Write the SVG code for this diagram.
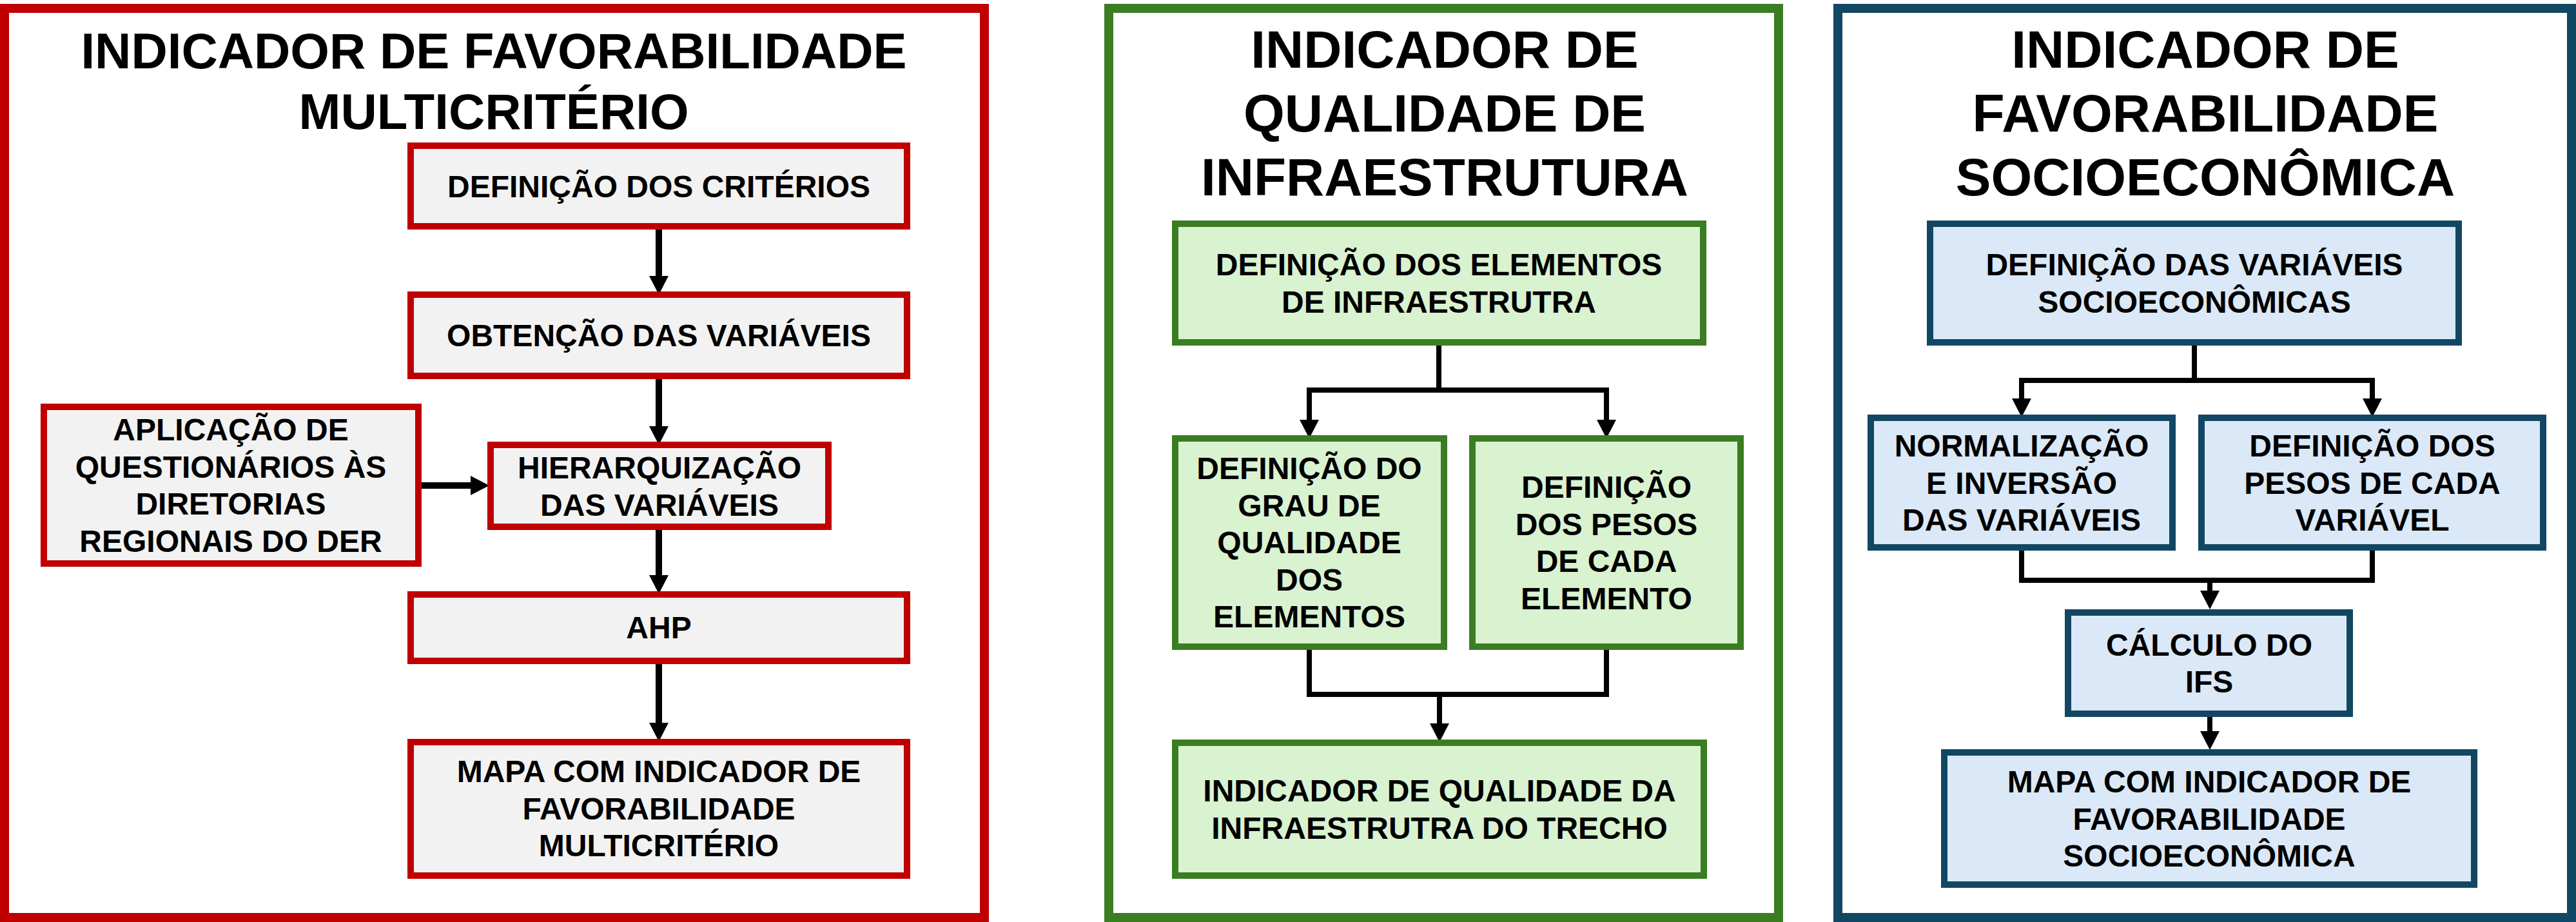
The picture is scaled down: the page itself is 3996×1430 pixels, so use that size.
<svg xmlns="http://www.w3.org/2000/svg" width="3996" height="1430" viewBox="0 0 3996 1430">
<style>
text{font-family:"Liberation Sans",Arial,sans-serif;font-weight:bold;fill:#000;text-anchor:middle}
.t1{font-size:78px}
.t2{font-size:82px}
.n{font-size:48px}
.frame{fill:#fff;stroke-width:14}
.box{stroke-width:10}
.r{stroke:#C00000}
.rb{fill:#F2F2F2;stroke:#C00000}
.g{stroke:#3A7D22}
.gb{fill:#D9F2D0;stroke:#3A7D22}
.b{stroke:#124763}
.bb{fill:#DAE8F7;stroke:#124763}
.c{fill:none;stroke:#000;stroke-linejoin:miter;stroke-linecap:butt}
.c10{stroke-width:10}
.c8{stroke-width:8}
</style>
<defs>
<marker id="ah" markerUnits="userSpaceOnUse" markerWidth="30" markerHeight="30" viewBox="0 -15 29 30" refX="0" refY="0" orient="auto">
<path d="M0,-15 L29,0 L0,15 z" fill="#000"/>
</marker>
</defs>
<rect width="3996" height="1430" fill="#fff"/>
<g id="frames">
<rect id="frame-ifm" class="frame r" x="7" y="13" width="1520" height="1410"/>
<rect id="frame-iqi" class="frame g" x="1720" y="13" width="1039" height="1410"/>
<rect id="frame-ifs" class="frame b" x="2851" y="13" width="1138" height="1410"/>
</g>
<g id="titles">
<text class="t1" x="766" y="106">INDICADOR DE FAVORABILIDADE</text>
<text class="t1" x="766" y="200">MULTICRITÉRIO</text>
<text class="t2" x="2241" y="105">INDICADOR DE</text>
<text class="t2" x="2241" y="204">QUALIDADE DE</text>
<text class="t2" x="2241" y="303">INFRAESTRUTURA</text>
<text class="t2" x="3421" y="105">INDICADOR DE</text>
<text class="t2" x="3421" y="204">FAVORABILIDADE</text>
<text class="t2" x="3421" y="303">SOCIOECONÔMICA</text>
</g>
<g id="connectors">
<path class="c c10" d="M1022,356 V428" marker-end="url(#ah)"/>
<path class="c c10" d="M1022,588 V661" marker-end="url(#ah)"/>
<path class="c c10" d="M1022,822 V892" marker-end="url(#ah)"/>
<path class="c c10" d="M1022,1030 V1121" marker-end="url(#ah)"/>
<path class="c c10" d="M654,753 H730" marker-end="url(#ah)"/>
<path class="c c8" d="M2232,536 V605 H2031 V651" marker-end="url(#ah)"/>
<path class="c c8" d="M2232,605 H2492 V651" marker-end="url(#ah)"/>
<path class="c c8" d="M2031,1008 V1077 H2492 V1008"/>
<path class="c c8" d="M2233,1077 V1122" marker-end="url(#ah)"/>
<path class="c c8" d="M3404,536 V590 H3136 V618" marker-end="url(#ah)"/>
<path class="c c8" d="M3404,590 H3680 V618" marker-end="url(#ah)"/>
<path class="c c8" d="M3136,854 V900 H3680 V854"/>
<path class="c c8" d="M3428,900 V916" marker-end="url(#ah)"/>
<path class="c c8" d="M3428,1112 V1134" marker-end="url(#ah)"/>
</g>
<g id="n-criterios"><rect class="box rb" x="637" y="226" width="770" height="125"/><text class="n" x="1022" y="306">DEFINIÇÃO DOS CRITÉRIOS</text></g>
<g id="n-obtencao"><rect class="box rb" x="637" y="457" width="770" height="126"/><text class="n" x="1022" y="537">OBTENÇÃO DAS VARIÁVEIS</text></g>
<g id="n-hierarquizacao"><rect class="box rb" x="761" y="690" width="524" height="127"/><text class="n" x="1023" y="742">HIERARQUIZAÇÃO</text><text class="n" x="1023" y="800">DAS VARIÁVEIS</text></g>
<g id="n-questionarios"><rect class="box rb" x="68" y="631" width="581" height="243"/><text class="n" x="358" y="683">APLICAÇÃO DE</text><text class="n" x="358" y="741">QUESTIONÁRIOS ÀS</text><text class="n" x="358" y="798">DIRETORIAS</text><text class="n" x="358" y="856">REGIONAIS DO DER</text></g>
<g id="n-ahp"><rect class="box rb" x="637" y="922" width="770" height="103"/><text class="n" x="1022" y="990">AHP</text></g>
<g id="n-mapa-ifm"><rect class="box rb" x="637" y="1151" width="770" height="207"/><text class="n" x="1022" y="1213">MAPA COM INDICADOR DE</text><text class="n" x="1022" y="1271">FAVORABILIDADE</text><text class="n" x="1022" y="1328">MULTICRITÉRIO</text></g>
<g id="n-elementos"><rect class="box gb" x="1823" y="347" width="819" height="184"/><text class="n" x="2232" y="427">DEFINIÇÃO DOS ELEMENTOS</text><text class="n" x="2232" y="485">DE INFRAESTRUTRA</text></g>
<g id="n-grau"><rect class="box gb" x="1823" y="680" width="417" height="323"/><text class="n" x="2031" y="743">DEFINIÇÃO DO</text><text class="n" x="2031" y="801">GRAU DE</text><text class="n" x="2031" y="858">QUALIDADE</text><text class="n" x="2031" y="916">DOS</text><text class="n" x="2031" y="973">ELEMENTOS</text></g>
<g id="n-pesos-elem"><rect class="box gb" x="2284" y="680" width="416" height="323"/><text class="n" x="2492" y="772">DEFINIÇÃO</text><text class="n" x="2492" y="830">DOS PESOS</text><text class="n" x="2492" y="887">DE CADA</text><text class="n" x="2492" y="945">ELEMENTO</text></g>
<g id="n-iqi"><rect class="box gb" x="1823" y="1152" width="820" height="206"/><text class="n" x="2233" y="1243">INDICADOR DE QUALIDADE DA</text><text class="n" x="2233" y="1301">INFRAESTRUTRA DO TRECHO</text></g>
<g id="n-variaveis"><rect class="box bb" x="2994" y="347" width="820" height="184"/><text class="n" x="3404" y="427">DEFINIÇÃO DAS VARIÁVEIS</text><text class="n" x="3404" y="485">SOCIOECONÔMICAS</text></g>
<g id="n-normalizacao"><rect class="box bb" x="2902" y="648" width="468" height="201"/><text class="n" x="3136" y="708">NORMALIZAÇÃO</text><text class="n" x="3136" y="766">E INVERSÃO</text><text class="n" x="3136" y="823">DAS VARIÁVEIS</text></g>
<g id="n-pesos-var"><rect class="box bb" x="3415" y="648" width="530" height="201"/><text class="n" x="3680" y="708">DEFINIÇÃO DOS</text><text class="n" x="3680" y="766">PESOS DE CADA</text><text class="n" x="3680" y="823">VARIÁVEL</text></g>
<g id="n-calculo"><rect class="box bb" x="3208" y="950" width="437" height="157"/><text class="n" x="3427" y="1017">CÁLCULO DO</text><text class="n" x="3427" y="1074">IFS</text></g>
<g id="n-mapa-ifs"><rect class="box bb" x="3016" y="1167" width="822" height="205"/><text class="n" x="3427" y="1229">MAPA COM INDICADOR DE</text><text class="n" x="3427" y="1287">FAVORABILIDADE</text><text class="n" x="3427" y="1344">SOCIOECONÔMICA</text></g>
</svg>
